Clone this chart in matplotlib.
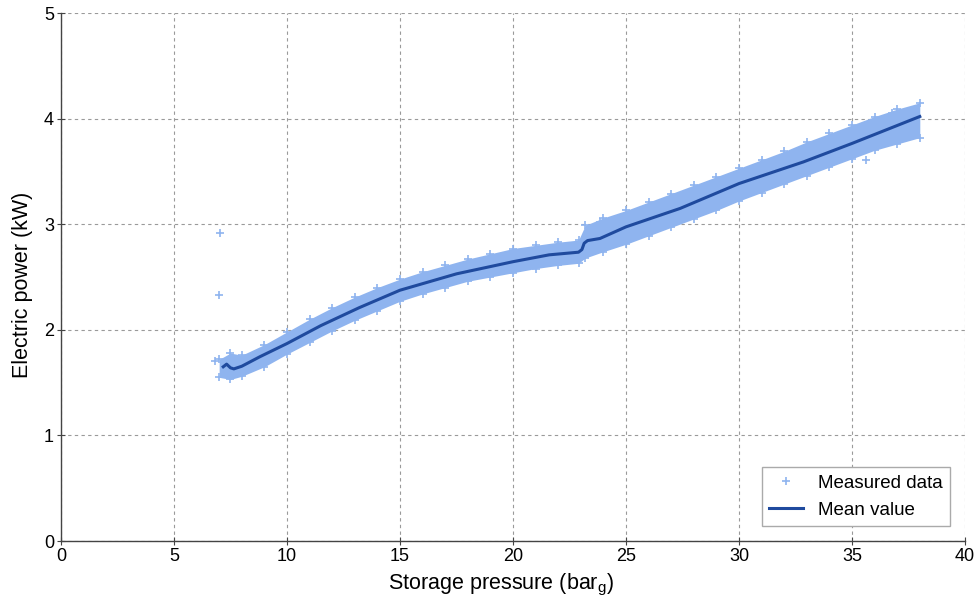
import matplotlib.pyplot as plt

plt.rcParams["font.family"] = ["Liberation Sans", "DejaVu Sans"]
plt.rcParams["mathtext.default"] = "regular"

# mean value curve (storage pressure in bar_g, power in kW)
mean_pressure = [7.18, 7.33, 7.5, 7.65, 8.0, 8.8, 10.0, 11.5, 13.2, 15.0,
                 17.5, 20.0, 21.6, 22.9, 23.05, 23.15, 23.3, 23.85, 25.0,
                 27.4, 30.0, 32.85, 35.0, 38.0]
mean_power = [1.65, 1.675, 1.64, 1.63, 1.655, 1.745, 1.87, 2.04, 2.21, 2.375,
              2.53, 2.645, 2.71, 2.735, 2.76, 2.82, 2.845, 2.865, 2.975,
              3.15, 3.385, 3.59, 3.765, 4.02]

# spread of the measured data (lower / upper edge of the cloud)
band_pressure = [7.0, 7.5, 8.0, 9.0, 10.0, 11.0, 12.0, 13.0, 14.0, 15.0,
                 16.0, 17.0, 18.0, 19.0, 20.0, 21.0, 22.0, 22.9, 23.2, 24.0,
                 25.0, 26.0, 27.0, 28.0, 29.0, 30.0, 31.0, 32.0, 33.0, 34.0,
                 35.0, 36.0, 37.0, 38.0]
band_low = [1.55, 1.53, 1.56, 1.65, 1.77, 1.88, 1.99, 2.09, 2.18, 2.27,
            2.34, 2.40, 2.46, 2.50, 2.54, 2.58, 2.61, 2.63, 2.68, 2.74,
            2.81, 2.89, 2.97, 3.05, 3.13, 3.22, 3.30, 3.38, 3.46, 3.54,
            3.62, 3.70, 3.76, 3.82]
band_high = [1.72, 1.78, 1.76, 1.86, 1.98, 2.10, 2.21, 2.31, 2.40, 2.48,
             2.55, 2.61, 2.67, 2.72, 2.77, 2.80, 2.83, 2.85, 2.99, 3.06,
             3.13, 3.21, 3.29, 3.37, 3.45, 3.53, 3.61, 3.69, 3.78, 3.86,
             3.94, 4.02, 4.09, 4.15]

# isolated measured points away from the cloud
outlier_pressure = [7.05, 6.99, 6.81, 35.6, 36.75, 23.85]
outlier_power = [2.92, 2.33, 1.70, 3.61, 4.05, 3.02]

light_blue = "#8fb4ef"
dark_blue = "#1f4a9e"
axis_grey = "#444444"

fig = plt.figure(figsize=(9.8, 6.03), dpi=100)
ax = fig.add_axes([0.0622, 0.1028, 0.9225, 0.8756])

ax.fill_between(band_pressure, band_low, band_high,
                color=light_blue, linewidth=0, zorder=2)

edge_p = band_pressure + band_pressure + outlier_pressure
edge_v = band_low + band_high + outlier_power
ax.plot(edge_p, edge_v, "+", color=light_blue, markersize=6,
        markeredgewidth=1.2, linestyle="none", zorder=2,
        label="Measured data")

ax.plot(mean_pressure, mean_power, color=dark_blue, linewidth=2.2,
        zorder=3, label="Mean value")

ax.set_xlim(0, 40)
ax.set_ylim(0, 5)
ax.set_xticks(range(0, 41, 5))
ax.set_yticks(range(0, 6))

ax.grid(True, color="#9a9a9a", linestyle=(0, (3, 3)), linewidth=0.8)
ax.set_axisbelow(True)

for side in ["top", "right"]:
    ax.spines[side].set_visible(False)
for side in ["left", "bottom"]:
    ax.spines[side].set_color(axis_grey)
    ax.spines[side].set_linewidth(1.0)

ax.tick_params(direction="inout", length=6, width=0.8, color=axis_grey,
               labelsize=13, pad=2)

ax.set_xlabel(r"Storage pressure (bar$_g$)", fontsize=15.5)
ax.set_ylabel("Electric power (kW)", fontsize=15.5)
ax.xaxis.set_label_coords(0.487, -0.058)
ax.yaxis.set_label_coords(-0.031, 0.485)

leg = ax.legend(loc="lower right", fontsize=13.5, frameon=True,
                fancybox=False, edgecolor="#aaaaaa", framealpha=1,
                borderaxespad=0.8, handlelength=1.8)
leg.get_frame().set_linewidth(1.0)

fig.savefig("out.png", dpi=100)
